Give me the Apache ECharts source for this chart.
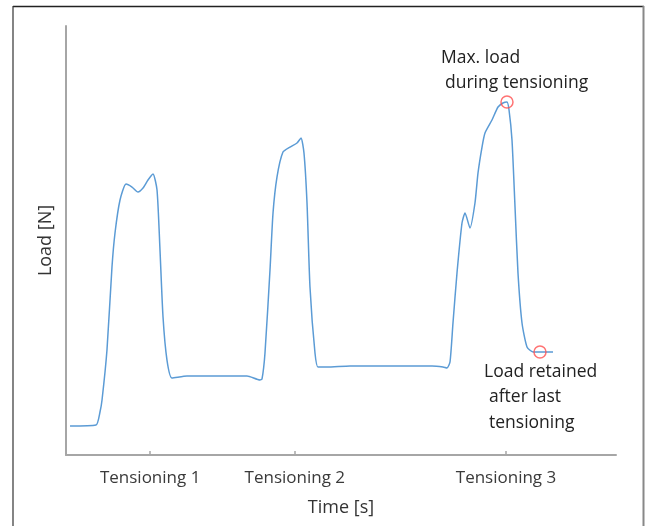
<!DOCTYPE html>
<html>
<head>
<meta charset="utf-8">
<script src="https://cdn.jsdelivr.net/npm/echarts@6/dist/echarts.min.js"></script>
<style>
html,body{margin:0;padding:0;background:#fff;}
#chart{width:645px;height:526px;}
</style>
</head>
<body>
<div id="chart"></div>
<script>
// Time [s]
const timeValues = [0.73,5.45,6.18,6.55,7.45,8.36,8.91,9.82,10.91,12.0,13.09,14.0,14.91,15.82,16.55,17.09,17.64,18.36,19.27,22.0,32.91,35.27,35.64,36.18,37.09,37.64,38.36,39.45,40.73,42.0,42.73,43.27,43.82,44.36,45.27,45.82,47.45,51.64,57.64,66.55,68.55,69.27,69.82,70.36,71.09,72.0,72.55,73.45,74.36,74.91,75.64,76.18,77.45,78.55,79.45,80.18,80.55,81.09,81.64,82.18,82.91,83.82,84.91,86.18,88.55];
// Load [N]
const loadValues = [6.76,6.99,10.02,12.82,24.48,43.82,51.75,59.44,63.17,62.47,61.31,62.24,64.1,65.5,61.77,47.79,32.17,22.14,17.95,18.41,18.41,17.48,17.72,23.78,43.12,56.41,64.8,70.63,71.79,72.73,73.89,70.4,58.74,39.16,23.78,20.51,20.51,20.75,20.75,20.75,20.51,20.28,21.68,30.77,42.42,54.08,56.41,52.91,58.74,65.73,71.79,75.06,78.09,81.12,82.05,82.28,80.42,73.43,57.81,42.42,30.77,25.17,24.01,24.01,24.01];
// Tick positions and labels on the time axis
const tickValues = [15.3, 41.6, 80.0];
const tickLabels = ['Tensioning 1', 'Tensioning 2', 'Tensioning 3'];
// Highlighted points (indices into the series)
const markerIndices = [55, 63];
// Annotation texts
const annotationMax = ['Max. load', 'during tensioning'];
const annotationRetained = ['Load retained', 'after last', 'tensioning'];

const seriesData = timeValues.map((t, i) => [t, loadValues[i]]);
const markerData = markerIndices.map(i => [timeValues[i], loadValues[i]]);

const FONT = 'Open Sans';
const ANN_FONT = '17.5px "Open Sans"';
const annText = (txt, x, y) => ({
  type: 'text', x: x, y: y, silent: true,
  style: {text: txt, font: ANN_FONT, fill: '#222', align: 'left', verticalAlign: 'middle'}
});

const chart = echarts.init(document.getElementById('chart'), null, {renderer: 'canvas'});
chart.setOption({
  animation: false,
  backgroundColor: '#ffffff',
  grid: {left: 66, top: 26, right: 29, bottom: 71, containLabel: false},
  xAxis: {
    type: 'value', min: 0, max: 100,
    name: 'Time [s]', nameLocation: 'middle', nameGap: 44,
    nameTextStyle: {fontFamily: FONT, fontSize: 18, color: '#333'},
    axisLine: {show: true, lineStyle: {color: '#a6a6a6', width: 2}},
    axisTick: {show: true, inside: true, length: 4, customValues: tickValues, lineStyle: {color: '#a6a6a6', width: 1.5}},
    axisLabel: {
      show: true, margin: 15, customValues: tickValues,
      fontFamily: FONT, fontSize: 17, color: '#3a3a3a',
      formatter: v => { const i = tickValues.indexOf(v); return i >= 0 ? tickLabels[i] : ''; }
    },
    splitLine: {show: false}
  },
  yAxis: {
    type: 'value', min: 0, max: 100,
    name: 'Load [N]', nameLocation: 'middle', nameGap: 11,
    nameTextStyle: {fontFamily: FONT, fontSize: 18, color: '#333'},
    axisLine: {show: true, lineStyle: {color: '#a6a6a6', width: 2}},
    axisTick: {show: false},
    axisLabel: {show: false},
    splitLine: {show: false}
  },
  series: [
    {
      type: 'line', data: seriesData, smooth: 0.2, showSymbol: false,
      lineStyle: {color: '#5b9bd5', width: 1.5}, z: 2
    },
    {
      type: 'scatter', data: markerData, symbol: 'circle', symbolSize: 12,
      itemStyle: {color: 'rgba(255,255,255,0)', borderColor: '#ff5050', borderWidth: 1.5}, z: 3
    }
  ],
  graphic: [
    {type: 'line', shape: {x1: 13, y1: 6.5, x2: 644, y2: 6.5}, style: {stroke: '#222', lineWidth: 1.5}, silent: true},
    {type: 'line', shape: {x1: 13, y1: 6, x2: 13, y2: 526}, style: {stroke: '#333', lineWidth: 1.2}, silent: true},
    {type: 'line', shape: {x1: 643.5, y1: 6, x2: 643.5, y2: 526}, style: {stroke: '#888', lineWidth: 2}, silent: true},
    annText(annotationMax[0], 441, 58),
    annText(annotationMax[1], 445, 83),
    annText(annotationRetained[0], 484, 372),
    annText(annotationRetained[1], 489, 397),
    annText(annotationRetained[2], 489, 423)
  ]
});
</script>
</body>
</html>
